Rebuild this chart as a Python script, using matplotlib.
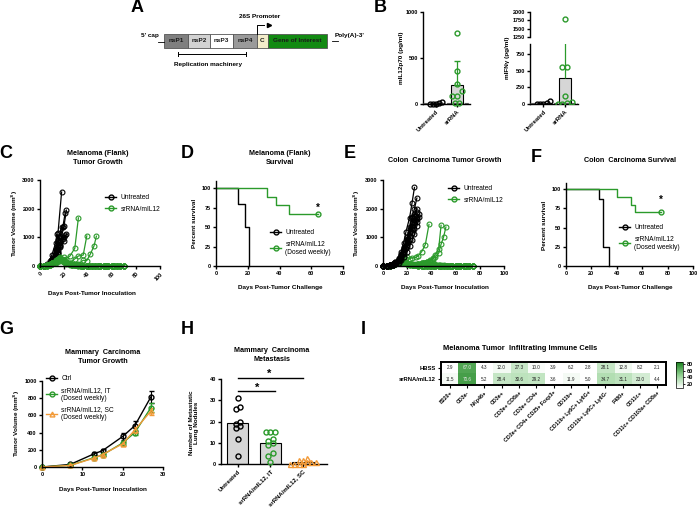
import numpy as np
import matplotlib
matplotlib.use('Agg')
import matplotlib.pyplot as plt
from matplotlib.patches import Rectangle
from matplotlib.lines import Line2D
from matplotlib.colors import LinearSegmentedColormap

plt.rcParams['font.family'] = ['Liberation Sans', 'DejaVu Sans']
plt.rcParams['font.weight'] = 'bold'
plt.rcParams['axes.labelweight'] = 'bold'

GREEN = '#2b9a2b'
ORANGE = '#f29a38'
GREY_BAR = '#d6d6d6'

# ---- A: construct
genome_parts = ['nsP1', 'nsP2', 'nsP3', 'nsP4', 'C', 'Gene of Interest']
genome_edges = [164, 188, 210, 233, 257, 268, 327]
genome_colors = ['#7f7f7f', '#d2d2d2', '#ffffff', '#9a9a9a', '#f3ecca', '#128a12']

# ---- B: cytokines (pg/ml)
b_groups = ['Untreated', 'srRNA']
il12_unt = [20, 8, 5, 2, 0]
il12_srna = [770, 360, 215, 140, 90, 85, 10, 10]
il12_lod = 15
ifn_unt = [50, 15, 5, 0, 0]
ifn_srna = [1800, 560, 550, 120, 30, 20, 5, 0]
ifn_lod = 10

# ---- C: melanoma growth
mel_unt_days = [
    [0, 3, 6, 8, 10, 13, 15, 18],
    [0, 3, 6, 8, 10, 13, 15, 17, 20, 22],
    [0, 3, 6, 8, 10, 13, 15, 17, 19, 21],
    [0, 3, 6, 8, 10, 13, 15, 18],
    [0, 3, 6, 8, 10, 13, 14],
    [0, 3, 6, 8, 10, 13, 15, 17, 20, 22],
    [0, 3, 6, 8, 10, 13, 16],
    [0, 3, 6, 8, 10, 13, 15, 17, 20],
    [0, 3, 6, 8, 10, 13, 15, 17, 19, 21],
    [0, 3, 6, 8, 10, 13, 15, 17],
]
mel_unt_vol = [
    [0, 10, 40, 110, 250, 600, 1150, 2580],
    [0, 5, 30, 80, 160, 330, 560, 850, 1400, 1950],
    [0, 8, 35, 90, 190, 400, 700, 1050, 1350, 1860],
    [0, 12, 45, 120, 260, 520, 900, 1370],
    [0, 15, 60, 180, 400, 800, 1100],
    [0, 5, 25, 60, 120, 240, 420, 650, 880, 1100],
    [0, 8, 40, 110, 250, 550, 1000],
    [0, 5, 20, 60, 130, 280, 460, 700, 1000],
    [0, 6, 25, 70, 150, 300, 480, 720, 930, 1080],
    [0, 10, 35, 90, 200, 420, 650, 880],
]
mel_flat_days = [0, 3, 6, 8, 10, 13, 15, 17, 20, 22, 25, 27, 29, 32, 34, 36,
                 39, 41, 43, 46, 48, 50, 53, 55, 57, 60, 62, 64, 67, 70]
mel_trt_days = [
    [0, 3, 6, 8, 10, 13, 15, 17, 20, 22, 25, 29, 32],
    [0, 3, 6, 8, 10, 13, 15, 17, 20, 22, 25, 29, 32, 36, 39],
    [0, 3, 6, 8, 10, 13, 15, 17, 20, 22, 25, 29, 32, 36, 39, 42, 45, 47],
    mel_flat_days, mel_flat_days, mel_flat_days,
    mel_flat_days, mel_flat_days, mel_flat_days,
]
mel_trt_vol = [
    [0, 5, 20, 50, 100, 180, 230, 270, 300, 260, 350, 620, 1680],
    [0, 5, 15, 40, 80, 150, 200, 240, 200, 150, 120, 250, 350, 380, 1050],
    [0, 5, 15, 35, 70, 120, 160, 200, 150, 100, 60, 50, 80, 200, 190, 420, 700, 1040],
    [0, 5, 20, 50, 110, 200, 260, 300, 220, 150, 90, 60, 40, 30, 20, 15, 10, 10, 5, 5, 0, 0, 0, 0, 0, 0, 0, 0, 0, 0],
    [0, 5, 15, 40, 90, 160, 210, 250, 180, 110, 70, 40, 30, 20, 10, 10, 5, 5, 0, 0, 0, 0, 0, 0, 0, 0, 0, 0, 0, 0],
    [0, 8, 25, 60, 120, 190, 240, 280, 200, 130, 80, 50, 30, 20, 15, 10, 10, 5, 5, 5, 0, 0, 0, 0, 0, 0, 0, 0, 0, 0],
    [0, 5, 18, 45, 95, 150, 180, 200, 140, 90, 60, 40, 25, 15, 10, 5, 5, 0, 0, 0, 0, 0, 0, 0, 0, 0, 0, 0, 0, 0],
    [0, 6, 22, 55, 100, 170, 220, 260, 190, 120, 70, 45, 30, 20, 15, 10, 5, 5, 5, 0, 0, 0, 0, 0, 0, 0, 0, 0, 0, 0],
    [0, 4, 12, 35, 80, 130, 170, 190, 130, 80, 50, 30, 20, 10, 10, 5, 5, 0, 0, 0, 0, 0, 0, 0, 0, 0, 0, 0, 0, 0],
]

# ---- D: melanoma survival (%)
mel_surv_unt_t = [0, 14, 18, 21]
mel_surv_unt_p = [100, 80, 50, 0]
mel_surv_trt_t = [0, 32, 38, 46, 64]
mel_surv_trt_p = [100, 88.9, 77.8, 66.7, 66.7]

# ---- E: colon carcinoma growth
col_unt_days = [
    [0, 3, 6, 8, 10, 13, 15, 17, 19, 22, 24, 26],
    [0, 3, 6, 8, 10, 13, 15, 17, 20, 22, 24, 26, 28],
    [0, 3, 6, 8, 10, 13, 15, 17, 20, 22, 24, 26, 28],
    [0, 3, 6, 8, 10, 13, 15, 17, 20, 22, 24, 26, 28],
    [0, 3, 6, 8, 10, 13, 15, 17, 20, 22, 24, 26, 28],
    [0, 3, 6, 8, 10, 13, 15, 17, 20, 22, 24, 26, 28],
    [0, 3, 6, 8, 10, 13, 15, 17, 20, 22, 24, 26, 28, 30],
    [0, 3, 6, 8, 10, 13, 15, 17, 20, 22, 24, 26, 28, 30],
]
col_unt_vol = [
    [0, 10, 30, 70, 140, 280, 500, 800, 1200, 1690, 2200, 2740],
    [0, 8, 25, 60, 120, 240, 400, 620, 950, 1300, 1700, 2000, 2370],
    [0, 10, 30, 65, 130, 250, 420, 650, 1000, 1350, 1690, 1800, 2000],
    [0, 5, 20, 50, 100, 200, 350, 550, 850, 1150, 1400, 1600, 1700],
    [0, 8, 22, 55, 110, 220, 380, 580, 900, 1200, 1500, 1750, 1900],
    [0, 6, 18, 45, 90, 180, 300, 480, 750, 1050, 1300, 1500, 1650],
    [0, 5, 15, 40, 80, 160, 270, 420, 650, 900, 1150, 1300, 1550, 1830],
    [0, 4, 12, 30, 60, 120, 200, 320, 500, 700, 900, 1100, 1400, 1700],
]
col_flat_days = [0, 3, 6, 8, 10, 13, 15, 17, 20, 22, 25, 27, 29, 32, 34, 36,
                 39, 41, 43, 46, 48, 50, 53, 55, 57, 60, 62, 64, 67, 69, 71, 74]
col_trt_days = [
    [0, 3, 6, 8, 10, 13, 15, 17, 20, 22, 24, 27, 29, 32, 35, 38],
    [0, 3, 6, 8, 10, 13, 15, 17, 20, 22, 25, 27, 29, 32, 34, 36, 39, 41, 43, 46, 48],
    [0, 3, 6, 8, 10, 13, 15, 17, 20, 22, 25, 27, 29, 32, 34, 36, 39, 41, 43, 46, 48, 50, 52],
    col_flat_days, col_flat_days, col_flat_days, col_flat_days,
    col_flat_days, col_flat_days, col_flat_days,
]
col_trt_vol = [
    [0, 8, 25, 60, 120, 200, 280, 330, 300, 260, 280, 300, 350, 500, 750, 1450],
    [0, 6, 20, 50, 100, 160, 200, 180, 120, 80, 60, 50, 70, 100, 120, 150, 200, 280, 400, 600, 1420],
    [0, 5, 15, 40, 80, 130, 170, 150, 100, 70, 50, 40, 60, 80, 100, 130, 180, 250, 300, 450, 760, 1000, 1360],
    [0, 5, 15, 40, 80, 120, 150, 130, 90, 60, 40, 30, 20, 15, 10, 10, 5, 5, 5, 0, 0, 0, 0, 0, 0, 0, 0, 0, 0, 0, 0, 0],
    [0, 4, 12, 30, 60, 100, 120, 110, 80, 60, 50, 60, 80, 100, 120, 110, 80, 50, 30, 20, 10, 5, 5, 0, 0, 0, 0, 0, 0, 0, 0, 0],
    [0, 6, 18, 45, 90, 140, 170, 150, 100, 70, 40, 25, 15, 10, 5, 5, 5, 0, 0, 0, 0, 0, 0, 0, 0, 0, 0, 0, 0, 0, 0, 0],
    [0, 5, 14, 35, 70, 110, 140, 120, 80, 50, 30, 20, 10, 10, 5, 5, 0, 0, 0, 0, 0, 0, 0, 0, 0, 0, 0, 0, 0, 0, 0, 0],
    [0, 3, 10, 28, 55, 90, 110, 100, 70, 50, 40, 50, 70, 90, 110, 130, 150, 120, 80, 50, 30, 20, 10, 5, 5, 0, 0, 0, 0, 0, 0, 0],
    [0, 5, 16, 40, 75, 115, 145, 125, 90, 60, 35, 20, 15, 10, 5, 5, 5, 5, 0, 0, 0, 0, 0, 0, 0, 0, 0, 0, 0, 0, 0, 0],
    [0, 4, 13, 32, 65, 100, 125, 105, 75, 50, 30, 20, 10, 10, 5, 0, 0, 0, 0, 0, 0, 0, 0, 0, 0, 0, 0, 0, 0, 0, 0, 0],
]

# ---- F: colon survival (%)
col_surv_unt_t = [0, 26, 29, 34]
col_surv_unt_p = [100, 87.5, 25, 0]
col_surv_trt_t = [0, 40, 51, 54, 75]
col_surv_trt_p = [100, 90, 80, 70, 70]

# ---- G: mammary growth (mean, sd)
g_days = [0, 7, 13, 15, 20, 23, 27]
ctrl_mean = [0, 30, 155, 190, 355, 480, 815]
ctrl_sd = [0, 5, 15, 20, 40, 60, 65]
it_mean = [0, 20, 110, 140, 280, 400, 690]
it_sd = [0, 5, 10, 15, 25, 25, 50]
sc_mean = [0, 18, 105, 145, 270, 430, 650]
sc_sd = [0, 5, 10, 15, 20, 30, 40]

# ---- H: lung nodules
h_groups = ['Untreated', 'srRNA/mIL12, IT', 'srRNA/mIL12, SC']
h_unt = [31, 27, 26, 20, 19, 18, 17, 12, 4]
h_it = [15, 15, 15, 12, 11, 10, 9, 5, 4, 1]
h_sc = [3, 2, 2, 1, 1, 1, 0, 0, 0, 0]

# ---- I: immune infiltrate heatmap
i_rows = ['HBSS', 'srRNA/mIL12']
i_cols = ['B220+', 'CD3e-', 'NKp46+', 'CD3e+', 'CD3e+ CD8a+', 'CD3e+ CD4+',
          'CD3e+ CD4+ CD25+ Foxp3+', 'CD11b+', 'CD11b+ Ly6C+ Ly6G+',
          'CD11b+ Ly6C+ Ly6G-', 'F480+', 'CD11c+', 'CD11c+ CD103a+ CD8a+']
i_hbss = [2.9, 67.0, 4.3, 12.0, 27.3, 10.0, 3.9, 6.2, 2.8, 28.1, 12.8, 8.2, 2.1]
i_srna = [11.5, 70.6, 5.2, 28.4, 30.6, 29.2, 3.6, 11.9, 5.0, 34.7, 31.1, 23.0, 4.4]

W, H = 700, 516
fig = plt.figure(figsize=(7, 5.16), dpi=100)


def axes_px(l, t, r, b):
    return fig.add_axes([l / W, 1 - b / H, (r - l) / W, (b - t) / H])


def fx(x):
    return x / W


def fy(y):
    return 1 - y / H


def prism(ax, size=4):
    ax.spines['top'].set_visible(False)
    ax.spines['right'].set_visible(False)
    for s in ('left', 'bottom'):
        ax.spines[s].set_linewidth(1.0)
    ax.tick_params(width=1.0, length=2.5, labelsize=size, pad=1.2)


def swarm(vals, step, tol):
    vals = np.asarray(vals, float)
    offs = np.zeros(len(vals))
    order = np.argsort(vals)
    groups = [[order[0]]]
    for i in order[1:]:
        if vals[i] - vals[groups[-1][0]] <= tol:
            groups[-1].append(i)
        else:
            groups.append([i])
    for g in groups:
        n = len(g)
        for k, i in enumerate(g):
            offs[i] = (k - (n - 1) / 2) * step
    return offs


def label(x, y, s, size=5, **kw):
    fig.text(fx(x), fy(y), s, ha='center', va='center', fontsize=size,
             fontweight='bold', **kw)


def legend(ax, handles, labels, left, top):
    ax.legend(handles, labels, loc='upper left', bbox_to_anchor=(fx(left), fy(top)),
              bbox_transform=fig.transFigure, frameon=False,
              prop={'size': 4.8, 'weight': 'normal'}, handlelength=1.7,
              handletextpad=0.6, labelspacing=0.7, borderpad=0, borderaxespad=0)


def lh(color, marker='o'):
    return Line2D([], [], color=color, lw=1, marker=marker, ms=3.5, mfc='none', mew=1)


# overlay for diagram and panel letters
ov = fig.add_axes([0, 0, 1, 1])
ov.set_xlim(0, W)
ov.set_ylim(H, 0)
ov.axis('off')

for k, name in enumerate(genome_parts):
    x0, x1 = genome_edges[k], genome_edges[k + 1]
    ov.add_patch(Rectangle((x0, 33.5), x1 - x0, 14, facecolor=genome_colors[k],
                           edgecolor='#555555', lw=0.6))
    ov.text((x0 + x1) / 2, 40.5, name, ha='center', va='center', fontsize=4.6,
            color='#1a1a1a')
ov.plot([158, 164], [41.5, 41.5], color='k', lw=0.6)
ov.plot([332, 338], [40.5, 40.5], color='k', lw=0.6)
ov.text(159, 35, "5' cap", ha='right', va='center', fontsize=4.6)
ov.text(335, 35, "Poly(A)-3'", ha='left', va='center', fontsize=4.6)
ov.text(260, 17, '26S Promoter', ha='center', va='center', fontsize=4.6)
ov.plot([257, 257, 264], [33.5, 25, 25], color='k', lw=0.7)
ov.plot([269], [25], marker='>', color='k', ms=3)
ov.plot([178, 246], [54, 54], color='k', lw=0.7)
ov.plot([178, 178], [52, 56], color='k', lw=0.7)
ov.plot([246, 246], [52, 56], color='k', lw=0.7)
ov.text(208, 64.5, 'Replication machinery', ha='center', va='center', fontsize=4.6)

for s, (x, y) in {'A': (137, 8), 'B': (380, 8), 'C': (6, 154), 'D': (187, 154),
                  'E': (350, 154), 'F': (536, 158), 'G': (6, 329), 'H': (187, 329),
                  'I': (363, 329)}.items():
    label(x, y, s, size=13)

# ---- B
ax = axes_px(423, 12, 470, 104)
prism(ax)
x_u = 0 + swarm(il12_unt, 0.15, 60)
x_s = 1 + swarm(il12_srna, 0.22, 60)
ax.bar([0, 1], [np.mean(il12_unt), np.mean(il12_srna)], width=0.57, color=GREY_BAR,
       edgecolor='k', lw=0.8, zorder=1)
ax.errorbar([1], [np.mean(il12_srna)], yerr=[[0], [np.std(il12_srna, ddof=1)]],
            color=GREEN, capsize=2, lw=0.9, zorder=2)
ax.axhline(il12_lod, color='#555555', lw=0.8, ls='--', zorder=3)
ax.plot(x_u, il12_unt, 'o', ms=3.5, mfc='none', mec='k', mew=1, zorder=4, clip_on=False)
ax.plot(x_s, il12_srna, 'o', ms=3.5, mfc='none', mec=GREEN, mew=1, zorder=4, clip_on=False)
ax.set_xlim(-0.62, 1.62)
ax.set_ylim(0, 1000)
ax.set_yticks([0, 500, 1000])
ax.set_xticks([0, 1])
ax.set_xticklabels(b_groups, rotation=45, ha='right', rotation_mode='anchor', fontsize=4.3)
label(402, 58, 'mIL12p70 (pg/ml)', size=4.6, rotation=90)

axl = axes_px(530, 44, 578, 104)
axu = axes_px(530, 12, 578, 37)
prism(axl)
prism(axu)
axu.spines['bottom'].set_visible(False)
axu.tick_params(axis='x', bottom=False, labelbottom=False)
x_u = 0 + swarm(ifn_unt, 0.15, 60)
x_s = 1 + swarm(ifn_srna, 0.22, 60)
for a in (axl, axu):
    a.bar([0, 1], [np.mean(ifn_unt), np.mean(ifn_srna)], width=0.57, color=GREY_BAR,
          edgecolor='k', lw=0.8, zorder=1)
    a.errorbar([1], [np.mean(ifn_srna)], yerr=[[0], [np.std(ifn_srna, ddof=1)]],
               color=GREEN, capsize=0, lw=0.9, zorder=2)
    a.plot(x_u, ifn_unt, 'o', ms=3.5, mfc='none', mec='k', mew=1, zorder=4)
    a.plot(x_s, ifn_srna, 'o', ms=3.5, mfc='none', mec=GREEN, mew=1, zorder=4)
    a.set_xlim(-0.62, 1.62)
axl.axhline(ifn_lod, color='#555555', lw=0.8, ls='--', zorder=3)
axl.set_ylim(0, 900)
axl.set_yticks([0, 250, 500, 750])
axu.set_ylim(1250, 2000)
axu.set_yticks([1250, 1500, 1750, 2000])
axl.set_xticks([0, 1])
axl.set_xticklabels(b_groups, rotation=45, ha='right', rotation_mode='anchor', fontsize=4.3)
label(507, 58, 'mIFNγ (pg/ml)', size=4.6, rotation=90)

# ---- C
ax = axes_px(40, 180, 160, 266)
prism(ax)
for d, v in zip(mel_unt_days, mel_unt_vol):
    ax.plot(d, v, color='k', lw=0.9, marker='o', ms=3.5, mfc='none', mew=0.8, clip_on=False)
for d, v in zip(mel_trt_days, mel_trt_vol):
    ax.plot(d, v, color=GREEN, lw=0.9, marker='o', ms=3.5, mfc='none', mew=0.8, clip_on=False)
ax.set_xlim(0, 100)
ax.set_ylim(0, 3000)
ax.set_yticks([0, 1000, 2000, 3000])
ax.set_xticks(range(0, 101, 20))
ax.set_xticklabels([str(v) for v in range(0, 101, 20)], rotation=45, ha='right',
                   rotation_mode='anchor')
legend(ax, [lh('k'), lh(GREEN)], ['Untreated', 'srRNA/mIL12'], 105, 194)
label(98, 158, 'Melanoma (Flank)\nTumor Growth', size=5.2, linespacing=1.3)
label(15, 223, 'Tumor Volume (mm$^\\mathbf{3}$)', size=4.6, rotation=90)
label(92, 294, 'Days Post-Tumor Inoculation', size=4.6)

# ---- D
ax = axes_px(216, 181, 343, 266)
prism(ax)
ax.step(mel_surv_unt_t, mel_surv_unt_p, where='post', color='k', lw=1, clip_on=False)
ax.step(mel_surv_trt_t, mel_surv_trt_p, where='post', color=GREEN, lw=1, clip_on=False)
ax.plot(mel_surv_trt_t[-1], mel_surv_trt_p[-1], 'o', ms=3.5, mfc='none', mec=GREEN, mew=1)
ax.text(mel_surv_trt_t[-1], mel_surv_trt_p[-1] + 8, '*', ha='center', va='center', fontsize=7)
ax.set_xlim(0, 80)
ax.set_ylim(0, 109)
ax.set_yticks([0, 25, 50, 75, 100])
ax.set_xticks([0, 20, 40, 60, 80])
legend(ax, [lh('k'), lh(GREEN)], ['Untreated', 'srRNA/mIL12\n(Dosed weekly)'], 270, 229)
label(280, 158, 'Melanoma (Flank)\nSurvival', size=5.2, linespacing=1.3)
label(195, 223, 'Percent survival', size=4.6, rotation=90)
label(280, 287, 'Days Post-Tumor Challenge', size=4.6)

# ---- E
ax = axes_px(383, 180, 504, 266)
prism(ax)
for d, v in zip(col_trt_days, col_trt_vol):
    ax.plot(d, v, color=GREEN, lw=0.9, marker='o', ms=3.5, mfc='none', mew=0.8, clip_on=False)
for d, v in zip(col_unt_days, col_unt_vol):
    ax.plot(d, v, color='k', lw=0.9, marker='o', ms=3.5, mfc='none', mew=0.8, clip_on=False)
ax.set_xlim(0, 100)
ax.set_ylim(0, 3000)
ax.set_yticks([0, 1000, 2000, 3000])
ax.set_xticks(range(0, 101, 20))
legend(ax, [lh('k'), lh(GREEN)], ['Untreated', 'srRNA/mIL12'], 448, 185)
label(445, 161, 'Colon  Carcinoma Tumor Growth', size=5.2)
label(357, 223, 'Tumor Volume (mm$^\\mathbf{3}$)', size=4.6, rotation=90)
label(445, 287, 'Days Post-Tumor Inoculation', size=4.6)

# ---- F
ax = axes_px(566, 183, 693, 266)
prism(ax)
ax.step(col_surv_unt_t, col_surv_unt_p, where='post', color='k', lw=1, clip_on=False)
ax.step(col_surv_trt_t, col_surv_trt_p, where='post', color=GREEN, lw=1, clip_on=False)
ax.plot(col_surv_trt_t[-1], col_surv_trt_p[-1], 'o', ms=3.5, mfc='none', mec=GREEN, mew=1)
ax.text(col_surv_trt_t[-1], col_surv_trt_p[-1] + 16, '*', ha='center', va='center', fontsize=7)
ax.set_xlim(0, 100)
ax.set_ylim(0, 108)
ax.set_yticks([0, 25, 50, 75, 100])
ax.set_xticks(range(0, 101, 20))
legend(ax, [lh('k'), lh(GREEN)], ['Untreated', 'srRNA/mIL12\n(Dosed weekly)'], 619, 224)
label(630, 161, 'Colon  Carcinoma Survival', size=5.2)
label(545, 225, 'Percent survival', size=4.6, rotation=90)
label(630, 287, 'Days Post-Tumor Challenge', size=4.6)

# ---- G
ax = axes_px(42, 381, 163, 467)
prism(ax)
ax.errorbar(g_days, ctrl_mean, yerr=ctrl_sd, color='k', marker='o', ms=3.5, mfc='none',
            mew=1, lw=1, capsize=1.8, elinewidth=0.8, clip_on=False)
ax.errorbar(g_days, it_mean, yerr=it_sd, color=GREEN, marker='o', ms=3.5, mfc='none',
            mew=1, lw=1, capsize=1.8, elinewidth=0.8, clip_on=False)
ax.errorbar(g_days, sc_mean, yerr=sc_sd, color=ORANGE, marker='^', ms=3.5, mfc='none',
            mew=1, lw=1, capsize=1.8, elinewidth=0.8, clip_on=False)
ax.set_xlim(0, 30)
ax.set_ylim(0, 1000)
ax.set_yticks(range(0, 1001, 200))
ax.set_xticks([0, 10, 20, 30])
legend(ax, [lh('k'), lh(GREEN), lh(ORANGE, '^')],
       ['Ctrl', 'srRNA/mIL12, IT\n(Dosed weekly)', 'srRNA/mIL12, SC\n(Dosed weekly)'], 46, 375)
label(103, 357, 'Mammary  Carcinoma\nTumor Growth', size=5.2, linespacing=1.3)
label(17, 423, 'Tumor Volume (mm$^\\mathbf{3}$)', size=4.6, rotation=90)
label(103, 490, 'Days Post-Tumor Inoculation', size=4.6)

# ---- H
ax = axes_px(221, 379, 327, 464)
prism(ax)
h_sets = [h_unt, h_it, h_sc]
h_cols = ['k', GREEN, ORANGE]
h_mark = ['o', 'o', '^']
ax.bar(range(3), [np.mean(v) for v in h_sets], width=0.65, color=GREY_BAR,
       edgecolor='k', lw=0.8, zorder=1)
for k, v in enumerate(h_sets):
    ax.plot(k + swarm(v, 0.13, 1.5), v, h_mark[k], ms=3.6, mfc='none', mec=h_cols[k],
            mew=1, zorder=3, clip_on=False)
ax.plot([0, 2], [40.6, 40.6], color='k', lw=1, clip_on=False)
ax.plot([0, 1.15], [34.4, 34.4], color='k', lw=1, clip_on=False)
ax.text(0.95, 42.2, '*', ha='center', va='center', fontsize=8, clip_on=False)
ax.text(0.58, 36.0, '*', ha='center', va='center', fontsize=8, clip_on=False)
ax.set_xlim(-0.52, 2.74)
ax.set_ylim(0, 40)
ax.set_yticks(range(0, 41, 10))
ax.set_xticks(range(3))
ax.set_xticklabels(h_groups, rotation=45, ha='right', rotation_mode='anchor', fontsize=4.3)
label(272, 355, 'Mammary  Carcinoma\nMetastasis', size=5.2, linespacing=1.3)
label(194, 423, 'Number of Metastatic\nLung Nodules', size=4.6, rotation=90, linespacing=1.2)

# ---- I
cmap = LinearSegmentedColormap.from_list('wg', ['#ffffff', '#8fcf8f', '#177f1c'])
ax = axes_px(441, 362, 666, 385)
mat = np.array([i_hbss, i_srna])
im = ax.imshow(mat, cmap=cmap, vmin=8, vmax=86, aspect='auto')
for r in range(mat.shape[0]):
    for c in range(mat.shape[1]):
        ax.text(c, r, f'{mat[r, c]:.1f}', ha='center', va='center', fontsize=3.3,
                fontweight='normal', color='#e8e8e8' if mat[r, c] > 60 else '#222222')
for s in ax.spines.values():
    s.set_linewidth(1.4)
ax.set_xticks(range(len(i_cols)))
ax.set_xticklabels(i_cols, rotation=45, ha='right', rotation_mode='anchor', fontsize=3.8)
ax.set_yticks([0, 1])
ax.set_yticklabels(i_rows, fontsize=4.2)
ax.tick_params(width=0.8, length=2.5, pad=1.2)
label(520, 348, 'Melanoma Tumor  Infiltrating Immune Cells', size=5.4)
cax = axes_px(676, 362, 683, 388)
cb = fig.colorbar(im, cax=cax, ticks=[20, 40, 60, 80])
cb.outline.set_linewidth(0.5)
cax.tick_params(labelsize=4, length=1.5, width=0.6, pad=1)

fig.savefig('out.png', dpi=100)
